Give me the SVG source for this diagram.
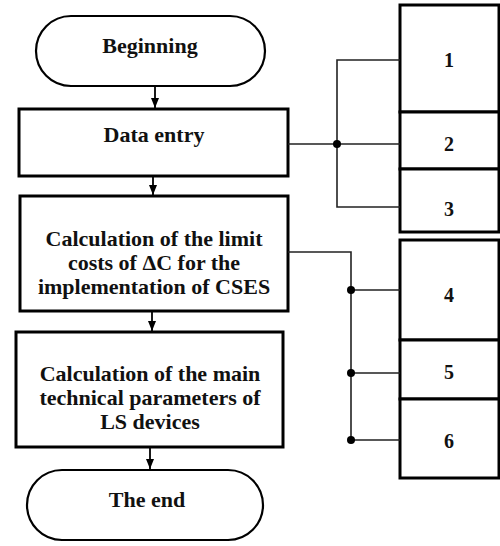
<svg xmlns="http://www.w3.org/2000/svg" width="500" height="546" viewBox="0 0 500 546">
<style>
.box{fill:#fff;stroke:#000;stroke-width:3}
.term{fill:#fff;stroke:#000;stroke-width:2.2}
.t{font-family:"Liberation Serif","Times New Roman",serif;font-weight:bold;font-size:22px;text-anchor:middle;fill:#111}
.n{font-size:20px}
.c{fill:none;stroke:#222;stroke-width:1.6}
.a{fill:none;stroke:#000;stroke-width:1.8}
.dot{fill:#000}
</style>
<defs>
<marker id="ah" viewBox="0 0 10 8" refX="10" refY="4" markerWidth="10" markerHeight="8" markerUnits="userSpaceOnUse" orient="auto">
<path d="M0,0 L10,4 L0,8 Z" fill="#000"/>
</marker>
</defs>
<rect width="500" height="546" fill="#fff"/>
<g id="n-begin">
<rect class="term" x="36" y="16" width="229" height="70" rx="35" ry="35"/>
<text class="t" x="150" y="53">Beginning</text>
</g>
<g id="n-data">
<rect class="box" x="19" y="109" width="269" height="67"/>
<text class="t" x="154" y="142">Data entry</text>
</g>
<g id="n-calc1">
<rect class="box" x="20" y="196" width="268" height="115"/>
<text class="t" x="154" y="246">Calculation of the limit</text>
<text class="t" x="154" y="270">costs of ΔC for the</text>
<text class="t" x="154" y="294">implementation of CSES</text>
</g>
<g id="n-calc2">
<rect class="box" x="16" y="332" width="267" height="115"/>
<text class="t" x="150" y="381">Calculation of the main</text>
<text class="t" x="150" y="405">technical parameters of</text>
<text class="t" x="150" y="429">LS devices</text>
</g>
<g id="n-end">
<rect class="term" x="27" y="470" width="236" height="70" rx="35" ry="35"/>
<text class="t" x="147" y="507">The end</text>
</g>
<g id="n-1"><rect class="box" x="400" y="5" width="99" height="107"/><text class="t n" x="449" y="67">1</text></g>
<g id="n-2"><rect class="box" x="400" y="112" width="99" height="57"/><text class="t n" x="449" y="151">2</text></g>
<g id="n-3"><rect class="box" x="400" y="169" width="99" height="63"/><text class="t n" x="449" y="216">3</text></g>
<g id="n-4"><rect class="box" x="400" y="240" width="99" height="100"/><text class="t n" x="449" y="302">4</text></g>
<g id="n-5"><rect class="box" x="400" y="340" width="99" height="59"/><text class="t n" x="449" y="379">5</text></g>
<g id="n-6"><rect class="box" x="400" y="399" width="99" height="79"/><text class="t n" x="449" y="448">6</text></g>
<g id="connectors">
<line class="a" x1="155" y1="86" x2="155" y2="108" marker-end="url(#ah)"/>
<line class="a" x1="153" y1="176" x2="153" y2="195" marker-end="url(#ah)"/>
<line class="a" x1="152" y1="311" x2="152" y2="331" marker-end="url(#ah)"/>
<line class="a" x1="150" y1="447" x2="150" y2="469" marker-end="url(#ah)"/>
<path class="c" d="M288,144 H400 M400,60 H337 V207 H400"/>
<circle class="dot" cx="337" cy="144" r="4"/>
<path class="c" d="M288,252 H351 V440 M351,290 H400 M351,373 H400 M351,440 H400"/>
<circle class="dot" cx="351" cy="290" r="4"/>
<circle class="dot" cx="351" cy="373" r="4"/>
<circle class="dot" cx="351" cy="440" r="4"/>
</g>
</svg>
